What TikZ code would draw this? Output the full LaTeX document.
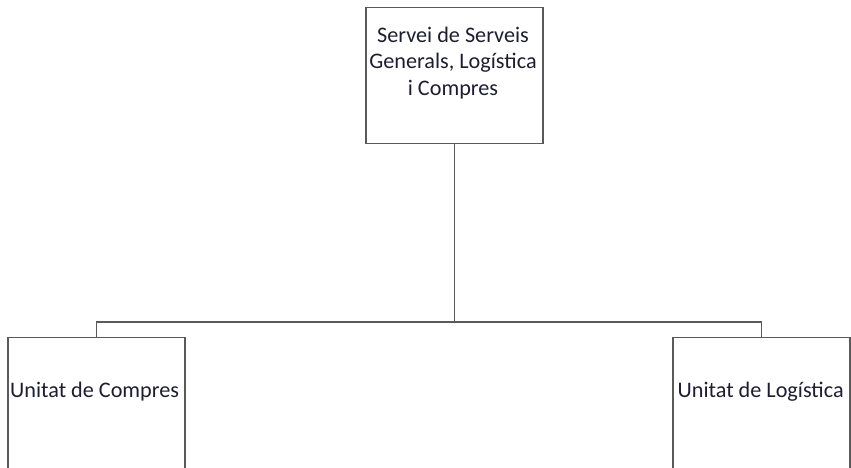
\documentclass[tikz,border=0pt]{standalone}
\usepackage{fontspec}
\setmainfont{Carlito}
\definecolor{linegray}{HTML}{5A5A5A}
\definecolor{txt}{HTML}{1E1E30}
\begin{document}
\begin{tikzpicture}[x=1pt,y=-1pt,
  box/.style={draw=linegray, line width=1.4pt, minimum width=177pt, inner sep=0pt, anchor=north, fill=white},
  lbl/.style={text=txt, font=\fontsize{22.2pt}{26.5pt}\selectfont, inner sep=0pt},
  conn/.style={draw=linegray, line width=1.4pt}]
\useasboundingbox (0,0) rectangle (851,467);
\clip (0,0) rectangle (851,467);
\fill[white] (0,0) rectangle (851,467);
\node[box, minimum height=136pt] (top) at (454.5,7) {};
\node[lbl, align=center] (toptxt) at (453,63) {Servei de Serveis\\Generals, Logística\\i Compres};
\node[box, minimum height=200pt] (lc) at (96.5,337) {};
\node[box, minimum height=200pt] (rc) at (761.5,337) {};
\node[lbl, anchor=west] (lctxt) at (10,392) {Unitat de Compres};
\node[lbl, anchor=west] (rctxt) at (677.5,392) {Unitat de Logística};
\coordinate (j) at (454.5,322);
\draw[conn] (top.south) -- (j);
\draw[conn] (lc.north) |- (j) -| (rc.north);
\end{tikzpicture}
\end{document}
